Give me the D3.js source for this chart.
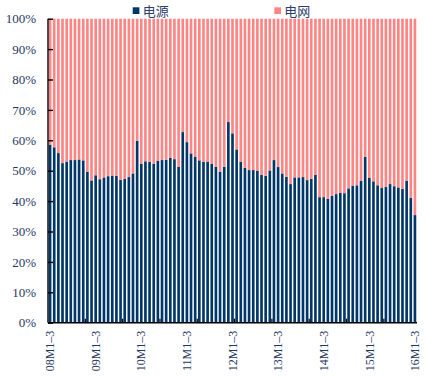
<!DOCTYPE html>
<html>
<head>
<meta charset="utf-8">
<script src="https://d3js.org/d3.v7.min.js"></script>
<style>
  body { margin: 0; background: #fff; }
  .tick-y { font-family: "Liberation Serif", "Times New Roman", serif; font-size: 13px; fill: #1f3864; }
  .tick-x { font-family: "Liberation Serif", "Times New Roman", serif; font-size: 12px; fill: #1f3864; }
  .legend { font-family: "Noto Sans CJK SC", sans-serif; font-size: 13px; fill: #2a3d6b; }
</style>
</head>
<body>
<script>
// share of 电源 in each period, % (电网 is the rest up to 100%)
var powerSource = [
  58.6, 57.7, 55.8, 52.5, 53.0, 53.5, 53.5, 53.7, 53.4, 49.6, 46.8,
  48.5, 47.2, 47.8, 48.2, 48.4, 48.3, 47.0, 47.3, 47.9, 49.1, 59.8,
  52.3, 53.1, 52.9, 52.3, 53.2, 53.5, 53.6, 54.2, 53.8, 51.3, 62.7,
  59.4, 55.7, 54.5, 53.4, 52.9, 53.0, 52.2, 51.3, 49.7, 51.3, 66.0,
  62.3, 57.0, 53.0, 50.9, 50.2, 50.2, 49.9, 48.6, 48.3, 50.1, 53.5,
  51.2, 49.1, 48.0, 45.6, 47.8, 47.8, 47.9, 46.9, 47.3, 48.6, 41.3,
  41.3, 40.7, 41.7, 42.3, 42.7, 42.6, 44.2, 45.1, 45.2, 46.6, 54.5,
  47.6, 46.5, 45.2, 44.3, 44.7, 45.6, 44.9, 44.5, 44.0, 46.7, 41.0,
  35.4
];
var seriesNames = ["电源", "电网"];
var xLabels = ["08M1–3", "09M1–3", "10M1–3", "11M1–3", "12M1–3", "13M1–3", "14M1–3", "15M1–3", "16M1–3"];
var labelEvery = 11;   // one label per year
var tickEvery = 9;     // axis tick marks
var yTicks = [0, 10, 20, 30, 40, 50, 60, 70, 80, 90, 100];

var colors = ["#003768", "#ff8585"];
var W = 427, H = 376;
var pLeft = 48, pRight = 417, pTop = 18.7, pBottom = 322.7;

var svg = d3.select("body").append("svg")
  .attr("width", W).attr("height", H);

var idx = d3.range(powerSource.length);
var x = d3.scaleBand().domain(idx).range([pLeft, pRight]).paddingInner(0.36).paddingOuter(0.18);
var y = d3.scaleLinear().domain([0, 100]).range([pBottom, pTop]);

var rows = idx.map(function(i) { return { i: i, a: powerSource[i], b: 100 - powerSource[i] }; });
var stacked = d3.stack().keys(["a", "b"])(rows);

svg.append("g").selectAll("g")
  .data(stacked).enter().append("g")
  .attr("fill", function(d, k) { return colors[k]; })
  .selectAll("rect")
  .data(function(d) { return d; }).enter().append("rect")
  .attr("x", function(d) { return x(d.data.i); })
  .attr("width", x.bandwidth())
  .attr("y", function(d) { return y(d[1]); })
  .attr("height", function(d) { return y(d[0]) - y(d[1]); });

// y axis
var ya = svg.append("g").attr("transform", "translate(" + pLeft + ",0)")
  .call(d3.axisRight(y).tickValues(yTicks).tickSize(5).tickFormat(""));
ya.select(".domain").attr("stroke", "#000").attr("stroke-width", 1.4).attr("d", "M0," + pBottom + "V" + pTop);
ya.selectAll(".tick line").attr("stroke", "#000").attr("stroke-width", 1.4);
svg.append("g").selectAll("text").data(yTicks).enter().append("text")
  .attr("class", "tick-y")
  .attr("x", 36).attr("y", function(d) { return y(d); })
  .attr("dy", "0.36em").attr("text-anchor", "end")
  .text(function(d) { return d + "%"; });

// x axis
svg.append("line").attr("x1", pLeft).attr("x2", pRight).attr("y1", pBottom).attr("y2", pBottom)
  .attr("stroke", "#000").attr("stroke-width", 1.4);
var tickPos = d3.range(tickEvery, powerSource.length, tickEvery);
var gapHalf = x.step() * x.paddingInner() / 2;
svg.append("g").selectAll("line").data(tickPos).enter().append("line")
  .attr("x1", function(d) { return x(d) - gapHalf; })
  .attr("x2", function(d) { return x(d) - gapHalf; })
  .attr("y1", pBottom).attr("y2", pBottom - 4)
  .attr("stroke", "#000").attr("stroke-width", 1.2);
svg.append("g").selectAll("text").data(xLabels).enter().append("text")
  .attr("class", "tick-x")
  .attr("transform", function(d, k) {
    var cx = x(k * labelEvery) + x.bandwidth() / 2;
    return "translate(" + cx + "," + (pBottom + 8) + ") rotate(-90)";
  })
  .attr("text-anchor", "end").attr("dy", "0.35em")
  .text(function(d) { return d; });

// legend
var legendX = [132.7, 274.3];
var lg = svg.append("g").selectAll("g").data(seriesNames).enter().append("g")
  .attr("transform", function(d, k) { return "translate(" + legendX[k] + ",7.3)"; });
lg.append("rect").attr("width", 6.7).attr("height", 6.7).attr("fill", function(d, k) { return colors[k]; });
lg.append("text").attr("class", "legend").attr("x", 10).attr("y", 3.5).attr("dy", "0.38em")
  .text(function(d) { return d; });
</script>
</body>
</html>
